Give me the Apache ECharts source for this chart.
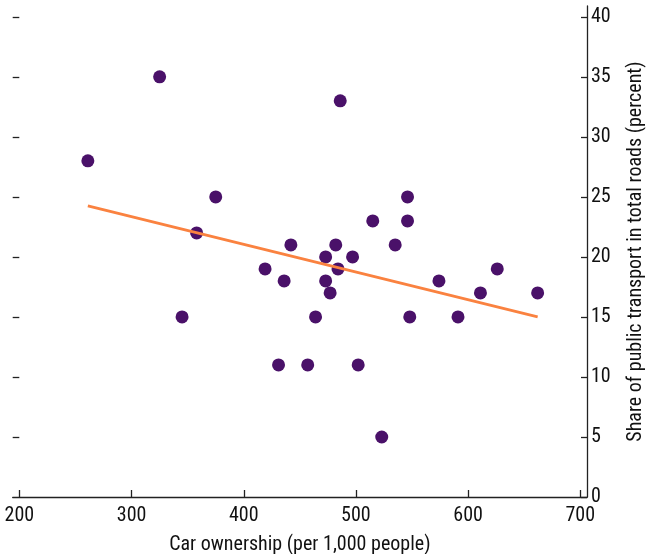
<!DOCTYPE html>
<html>
<head>
<meta charset="utf-8">
<script src="https://cdn.jsdelivr.net/npm/echarts@6/dist/echarts.min.js"></script>
<style>
html,body{margin:0;padding:0;background:#fff;}
#chart{width:653px;height:554px;}
</style>
</head>
<body>
<div id="chart"></div>
<script>
// Data
const carOwnership = [261, 325, 345, 358, 375, 419, 431, 436, 442, 457, 464, 473, 473, 477, 482, 484, 486, 497, 502, 515, 523, 535, 546, 546, 548, 574, 591, 611, 626, 662];
const publicShare  = [28, 35, 15, 22, 25, 19, 11, 18, 21, 11, 15, 20, 18, 17, 21, 19, 33, 20, 11, 23, 5, 21, 25, 23, 15, 18, 15, 17, 19, 17];
const trendX = [261, 662];
const trendY = [24.25, 15.0];
const xTicks = [200, 300, 400, 500, 600, 700];
const yTicks = [0, 5, 10, 15, 20, 25, 30, 35, 40];
const xTitle = 'Car ownership (per 1,000 people)';
const yTitle = 'Share of public transport in total roads (percent)';

const FONT = '"Roboto Condensed", "Liberation Sans", sans-serif';
const chart = echarts.init(document.getElementById('chart'), null, {renderer: 'canvas'});
chart.setOption({
  animation: false,
  backgroundColor: '#fff',
  grid: {left: 12.7, right: 66, top: 6, bottom: 57, containLabel: false, outerBoundsMode: 'none'},
  xAxis: {
    type: 'value', min: 194, max: 706,
    axisLine: {show: true, lineStyle: {color: '#222', width: 1.3}},
    axisTick: {show: true, inside: true, length: 7, customValues: xTicks, lineStyle: {color: '#222', width: 1.3}},
    axisLabel: {show: true, customValues: xTicks, margin: 9, color: '#111', fontSize: 20, fontFamily: FONT},
    splitLine: {show: false},
    name: xTitle, nameLocation: 'middle', nameGap: 38,
    nameTextStyle: {color: '#111', fontSize: 20, fontFamily: FONT}
  },
  yAxis: [{
    type: 'value', min: 0, max: 40.9, position: 'right',
    axisLine: {show: true, onZero: false, lineStyle: {color: '#222', width: 1.3}},
    axisTick: {show: true, inside: true, length: 6, customValues: yTicks, lineStyle: {color: '#222', width: 1.3}},
    axisLabel: {show: true, customValues: yTicks, margin: 4, color: '#111', fontSize: 20, fontFamily: FONT},
    splitLine: {show: false},
    name: yTitle, nameLocation: 'middle', nameGap: 39, nameRotate: 90,
    nameTextStyle: {color: '#111', fontSize: 20, fontFamily: FONT}
  }, {
    type: 'value', min: 0, max: 40.9, position: 'left',
    axisLine: {show: false},
    axisTick: {show: true, inside: true, length: 6.6, customValues: yTicks.slice(1), lineStyle: {color: '#222', width: 1.3}},
    axisLabel: {show: false},
    splitLine: {show: false}
  }],
  series: [{
    type: 'scatter',
    yAxisIndex: 0,
    symbolSize: 13,
    itemStyle: {color: '#4a1169', opacity: 1},
    data: carOwnership.map((x, i) => [x, publicShare[i]]),
    z: 3
  }, {
    type: 'line',
    yAxisIndex: 0,
    showSymbol: false,
    lineStyle: {color: '#fa8240', width: 2.8},
    data: trendX.map((x, i) => [x, trendY[i]]),
    z: 4
  }]
});
</script>
</body>
</html>
